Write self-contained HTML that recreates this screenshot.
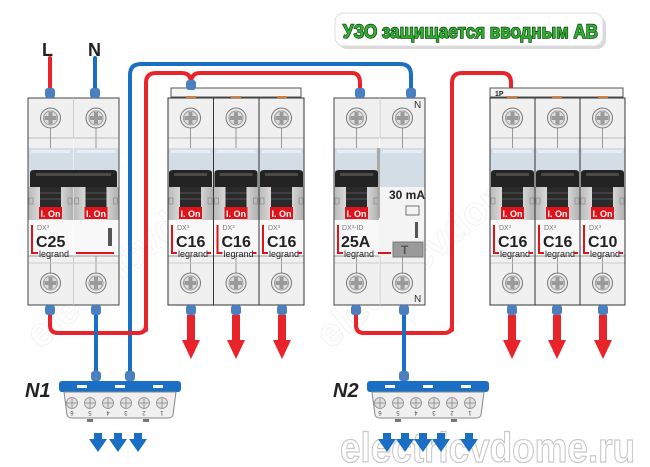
<!DOCTYPE html>
<html><head><meta charset="utf-8"><style>
html,body{margin:0;padding:0;background:#fff;}
svg{display:block;font-family:"Liberation Sans",sans-serif;}
</style></head><body>
<svg width="650" height="467" viewBox="0 0 650 467" xmlns="http://www.w3.org/2000/svg">
<defs>
<linearGradient id="tg" x1="0" x2="1" y1="0" y2="0">
<stop offset="0" stop-color="#b9b9b9"/><stop offset="0.5" stop-color="#f4f4f4"/><stop offset="1" stop-color="#b0b0b0"/></linearGradient>
<g id="screw">
<circle r="10" fill="#eaeaea" stroke="#777" stroke-width="1"/>
<circle r="7" fill="#dcdcdc" stroke="#999" stroke-width="1"/>
<rect x="-2" y="-6" width="4" height="12" fill="#9a9a9a"/>
<rect x="-6" y="-2" width="12" height="4" fill="#9a9a9a"/>
</g>
<g id="pole">
<rect x="0" y="0" width="45" height="207" fill="#f0f0f0"/>
<line x1="0" y1="40" x2="45" y2="40" stroke="#bbb"/>
<line x1="22.5" y1="30" x2="22.5" y2="50" stroke="#999"/>
<rect x="0" y="50" width="45" height="40" fill="#d3dde6"/>
<rect x="3" y="52" width="39" height="3" fill="#e8eef3"/>
<rect x="0" y="89" width="45" height="33" fill="url(#tg)"/>
<rect x="12" y="89" width="21" height="22" fill="#2a2a2a"/>
<line x1="12" y1="95" x2="33" y2="95" stroke="#555"/>
<line x1="12" y1="101" x2="33" y2="101" stroke="#555"/>
<rect x="1" y="100" width="4" height="6" fill="none" stroke="#888" stroke-width="0.7"/>
<rect x="40" y="100" width="4" height="6" fill="none" stroke="#888" stroke-width="0.7"/>
<rect x="0" y="122" width="45" height="36" fill="#f8f8f8"/>
<line x1="0" y1="158" x2="45" y2="158" stroke="#999"/>
<line x1="22.5" y1="158" x2="22.5" y2="175" stroke="#999"/>
<line x1="0" y1="165" x2="45" y2="165" stroke="#ccc"/>
<use href="#screw" x="22.5" y="20"/>
<use href="#screw" x="22.5" y="185"/>
</g>
<g id="handle"><path d="M1 89 V75 Q1 72 5 72 H40 Q44 72 44 75 V89 Z" fill="#232323"/><rect x="6" y="75" width="33" height="3" fill="#4a4a4a"/></g>
<g id="onlbl"><rect x="11" y="109" width="23" height="12" fill="#e0131b"/><text x="22.5" y="119" font-size="9" font-weight="bold" fill="#fff" text-anchor="middle">I. On</text></g>
<g id="conn"><rect x="-5" y="0" width="10" height="10" rx="3" fill="#4a7fc0"/></g>
<polygon id="rarr" points="-4,0 4,0 4,25 9,25 0,44 -9,25 -4,25" fill="#e8232a"/>
<polygon id="barr" points="-4,0 4,0 4,6 9,6 0,19 -9,6 -4,6" fill="#1a6fc4"/>
</defs>

<!-- watermarks -->
<g fill="none" stroke="#eeeeee" stroke-width="0.7" font-size="40" font-weight="bold">
<text x="40" y="350" transform="rotate(-40 40 350)">electricvdome.ru</text>
<text x="330" y="350" transform="rotate(-40 330 350)">electricvdome.ru</text>
</g>

<g fill="none" stroke-linecap="round">
<path d="M50 58 V95" stroke="#e8232a" stroke-width="4"/>
<path d="M95 58 V95" stroke="#1a6fc4" stroke-width="4"/>
<path d="M130 375 V75 Q130 64 141 64 H400 Q411 64 411 75 V92" stroke="#1a6fc4" stroke-width="4"/>
<path d="M146 330 V83 Q146 73 156 73 H182 Q191 73 191 83" stroke="#e8232a" stroke-width="4"/>
<path d="M191 83 Q191 73 200 73 H352 Q360 73 360 83 V92" stroke="#e8232a" stroke-width="4"/>
<path d="M452 330 V83 Q452 73 462 73 H502 Q511 73 511 83 V90" stroke="#e8232a" stroke-width="4"/>
<path d="M50 312 V325 Q50 333 58 333 H138 Q146 333 146 325" stroke="#e8232a" stroke-width="4"/>
<path d="M96 312 V375" stroke="#1a6fc4" stroke-width="4"/>
<path d="M356 312 V325 Q356 333 364 333 H444 Q452 333 452 325" stroke="#e8232a" stroke-width="4"/>
<path d="M404 312 V375" stroke="#1a6fc4" stroke-width="4"/>
</g>

<text x="42" y="56" font-size="18" font-weight="bold" fill="#222">L</text>
<text x="88" y="56" font-size="18" font-weight="bold" fill="#222">N</text>

<!-- C25 -->
<use href="#pole" x="28" y="98"/><use href="#pole" x="73.5" y="98"/>
<g transform="translate(28,98)">
<rect x="0" y="0" width="91" height="207" fill="none" stroke="#444"/>
<line x1="45.5" y1="0" x2="45.5" y2="40" stroke="#ccc"/>
<line x1="45.5" y1="158" x2="45.5" y2="207" stroke="#ccc"/>
<path d="M2 89 V75 Q2 72 6 72 H85 Q89 72 89 75 V89 Z" fill="#232323"/><rect x="8" y="75" width="75" height="3" fill="#4a4a4a"/>
<use href="#onlbl"/><use href="#onlbl" x="45.5"/>
<path d="M4 127 V155 H10" stroke="#e0131b" stroke-width="2" fill="none"/>
<text x="9" y="132" font-size="7" fill="#777">DX³</text>
<text x="8" y="149" font-size="16" font-weight="bold" fill="#222">C25</text>
<text x="11" y="159" font-size="9" fill="#222">legrand</text>
<line x1="48" y1="155" x2="86" y2="155" stroke="#e0131b" stroke-width="2"/>
<rect x="80" y="130" width="4" height="18" fill="#555"/>
</g>
<use href="#conn" x="50" y="88"/><use href="#conn" x="95" y="88"/>
<use href="#conn" x="50" y="305"/><use href="#conn" x="96" y="305"/>

<!-- group 1 -->
<rect x="171" y="88" width="130" height="9" fill="#f4f4f4" stroke="#555"/>
<use href="#pole" x="168" y="98"/><use href="#pole" x="213.5" y="98"/><use href="#pole" x="259" y="98"/>
<rect x="168" y="98" width="136" height="207" fill="none" stroke="#333"/>
<line x1="213.5" y1="98" x2="213.5" y2="305" stroke="#333"/><line x1="259" y1="98" x2="259" y2="305" stroke="#333"/>
<use href="#handle" x="168" y="98"/><use href="#handle" x="213.5" y="98"/><use href="#handle" x="259" y="98"/>
<use href="#onlbl" x="168" y="98"/><use href="#onlbl" x="213.5" y="98"/><use href="#onlbl" x="259" y="98"/>
<g transform="translate(168,98)"><path d="M4 127 V155 H9" stroke="#e0131b" stroke-width="2" fill="none"/><text x="9" y="132" font-size="7" fill="#777">DX³</text><text x="8" y="149" font-size="16" font-weight="bold" fill="#222">C16</text><text x="10" y="159" font-size="9" fill="#222">legrand</text><rect x="39" y="154" width="4" height="2" fill="#e0131b"/></g>
<g transform="translate(213.5,98)"><path d="M4 127 V155 H9" stroke="#e0131b" stroke-width="2" fill="none"/><text x="9" y="132" font-size="7" fill="#777">DX³</text><text x="8" y="149" font-size="16" font-weight="bold" fill="#222">C16</text><text x="10" y="159" font-size="9" fill="#222">legrand</text><rect x="39" y="154" width="4" height="2" fill="#e0131b"/></g>
<g transform="translate(259,98)"><path d="M4 127 V155 H9" stroke="#e0131b" stroke-width="2" fill="none"/><text x="9" y="132" font-size="7" fill="#777">DX³</text><text x="8" y="149" font-size="16" font-weight="bold" fill="#222">C16</text><text x="10" y="159" font-size="9" fill="#222">legrand</text><rect x="39" y="154" width="4" height="2" fill="#e0131b"/></g>
<rect x="186" y="96" width="10" height="2" fill="#d08040"/><rect x="231" y="96" width="10" height="2" fill="#d08040"/><rect x="277" y="96" width="10" height="2" fill="#d08040"/>
<use href="#conn" x="191" y="80"/>
<use href="#conn" x="191" y="305"/><use href="#conn" x="236" y="305"/><use href="#conn" x="282" y="305"/>
<use href="#rarr" x="191" y="315"/><use href="#rarr" x="236" y="315"/><use href="#rarr" x="282" y="315"/>

<!-- RCD -->
<use href="#pole" x="334" y="98"/><use href="#pole" x="380" y="98"/>
<g transform="translate(334,98)">
<rect x="45" y="89" width="47" height="70" fill="#f4f4f4"/>
<rect x="0" y="0" width="91" height="207" fill="none" stroke="#444"/>
<line x1="46" y1="0" x2="46" y2="40" stroke="#ccc"/><line x1="46" y1="158" x2="46" y2="207" stroke="#ccc"/>
<rect x="43" y="50" width="3" height="70" fill="#aaa"/>
<use href="#handle"/><use href="#onlbl"/>
<text x="55" y="101" font-size="12" font-weight="bold" fill="#222">30 mA</text>
<rect x="72" y="108" width="13" height="9" fill="none" stroke="#555" stroke-width="0.8"/>
<text x="80" y="10" font-size="10" fill="#333">N</text>
<text x="80" y="204" font-size="10" fill="#333">N</text>
<path d="M4 127 V155 H9" stroke="#e0131b" stroke-width="2" fill="none"/>
<text x="8" y="132" font-size="7" fill="#777">DX³-ID</text>
<text x="7" y="149" font-size="16" font-weight="bold" fill="#222">25A</text>
<text x="10" y="159" font-size="9" fill="#222">legrand</text>
<line x1="44" y1="155" x2="57" y2="155" stroke="#e0131b" stroke-width="2"/>
<rect x="59" y="144" width="30" height="15" fill="#9a9a9a" stroke="#777"/>
<text x="67" y="156" font-size="12" font-weight="bold" fill="#555">T</text>
<rect x="81" y="124" width="3" height="16" fill="#555"/>
</g>
<use href="#conn" x="360" y="88"/><use href="#conn" x="411" y="88"/>
<use href="#conn" x="356" y="305"/><use href="#conn" x="404" y="305"/>

<!-- group 2 -->
<rect x="490" y="88" width="133" height="9" fill="#f4f4f4" stroke="#555"/>
<text x="495" y="96" font-size="7" font-weight="bold" fill="#222">1P</text>
<use href="#pole" x="490" y="98"/><use href="#pole" x="535" y="98"/><use href="#pole" x="580" y="98"/>
<rect x="490" y="98" width="135" height="207" fill="none" stroke="#333"/>
<line x1="535" y1="98" x2="535" y2="305" stroke="#333"/><line x1="580" y1="98" x2="580" y2="305" stroke="#333"/>
<use href="#handle" x="490" y="98"/><use href="#handle" x="535" y="98"/><use href="#handle" x="580" y="98"/>
<use href="#onlbl" x="490" y="98"/><use href="#onlbl" x="535" y="98"/><use href="#onlbl" x="580" y="98"/>
<g transform="translate(490,98)"><path d="M4 127 V155 H9" stroke="#e0131b" stroke-width="2" fill="none"/><text x="9" y="132" font-size="7" fill="#777">DX³</text><text x="8" y="149" font-size="16" font-weight="bold" fill="#222">C16</text><text x="10" y="159" font-size="9" fill="#222">legrand</text><rect x="39" y="154" width="4" height="2" fill="#e0131b"/></g>
<g transform="translate(535,98)"><path d="M4 127 V155 H9" stroke="#e0131b" stroke-width="2" fill="none"/><text x="9" y="132" font-size="7" fill="#777">DX³</text><text x="8" y="149" font-size="16" font-weight="bold" fill="#222">C16</text><text x="10" y="159" font-size="9" fill="#222">legrand</text><rect x="39" y="154" width="4" height="2" fill="#e0131b"/></g>
<g transform="translate(580,98)"><path d="M4 127 V155 H9" stroke="#e0131b" stroke-width="2" fill="none"/><text x="9" y="132" font-size="7" fill="#777">DX³</text><text x="8" y="149" font-size="16" font-weight="bold" fill="#222">C10</text><text x="10" y="159" font-size="9" fill="#222">legrand</text><rect x="39" y="154" width="4" height="2" fill="#e0131b"/></g>
<rect x="507" y="96" width="10" height="2" fill="#d08040"/><rect x="552" y="96" width="10" height="2" fill="#d08040"/><rect x="598" y="96" width="10" height="2" fill="#d08040"/>
<use href="#conn" x="512" y="305"/><use href="#conn" x="557" y="305"/><use href="#conn" x="603" y="305"/>
<use href="#rarr" x="512" y="315"/><use href="#rarr" x="557" y="315"/><use href="#rarr" x="603" y="315"/>

<!-- title -->
<rect x="336" y="14" width="268" height="33" rx="9" fill="#000" opacity="0.15" transform="translate(2,2)"/>
<rect x="335" y="13" width="268" height="33" rx="9" fill="#fff" stroke="#ddd"/>
<text x="343" y="38" font-size="19" font-weight="bold" fill="#2fb02f" stroke="#0d3d0d" stroke-width="1.4" paint-order="stroke" textLength="255" lengthAdjust="spacingAndGlyphs">УЗО защищается вводным АВ</text>

<!-- N1 -->
<g id="term">
<rect x="59" y="381" width="122" height="11" rx="3" fill="#1a6fc4"/>
<rect x="77" y="385" width="10" height="3" fill="#fff"/><rect x="115" y="385" width="10" height="3" fill="#fff"/><rect x="153" y="385" width="10" height="3" fill="#fff"/>
<path d="M64 392 H176 L173 415 Q172 418 168 418 H72 Q68 418 67 415 Z" fill="#f0f0f0" stroke="#888"/>
<g fill="#e0e0e0" stroke="#888" stroke-width="0.8">
<circle cx="72" cy="403" r="5.5"/><circle cx="90" cy="403" r="5.5"/><circle cx="108" cy="403" r="5.5"/><circle cx="126" cy="403" r="5.5"/><circle cx="144" cy="403" r="5.5"/><circle cx="162" cy="403" r="5.5"/>
</g>
<g stroke="#888" stroke-width="0.8">
<path d="M72 398v10M67 403h10M90 398v10M85 403h10M108 398v10M103 403h10M126 398v10M121 403h10M144 398v10M139 403h10M162 398v10M157 403h10"/>
</g>
<g font-size="6" fill="#555" text-anchor="middle">
<text transform="translate(72,411) rotate(180)">6</text><text transform="translate(90,411) rotate(180)">5</text><text transform="translate(108,411) rotate(180)">4</text><text transform="translate(126,411) rotate(180)">3</text><text transform="translate(144,411) rotate(180)">2</text><text transform="translate(162,411) rotate(180)">1</text>
</g>
<rect x="87" y="419" width="6" height="3" fill="#777"/><rect x="143" y="419" width="6" height="3" fill="#777"/>
</g>
<use href="#term" x="308" y="0"/>
<use href="#conn" x="96" y="371"/><use href="#conn" x="130" y="371"/><use href="#conn" x="404" y="371"/>
<text x="25" y="397" font-size="20" font-weight="bold" font-style="italic" fill="#222">N1</text>
<text x="333" y="397" font-size="20" font-weight="bold" font-style="italic" fill="#222">N2</text>
<use href="#barr" x="98" y="433"/><use href="#barr" x="118" y="433"/><use href="#barr" x="138" y="433"/>

<text x="340" y="462" font-size="42" font-weight="bold" fill="#fff" stroke="#c8c8c8" stroke-width="1.2" textLength="295" lengthAdjust="spacingAndGlyphs">electricvdome.ru</text>
<use href="#barr" x="387" y="433"/><use href="#barr" x="405" y="433"/><use href="#barr" x="423" y="433"/><use href="#barr" x="441" y="433"/><use href="#barr" x="469" y="433"/>
</svg>
</body></html>
